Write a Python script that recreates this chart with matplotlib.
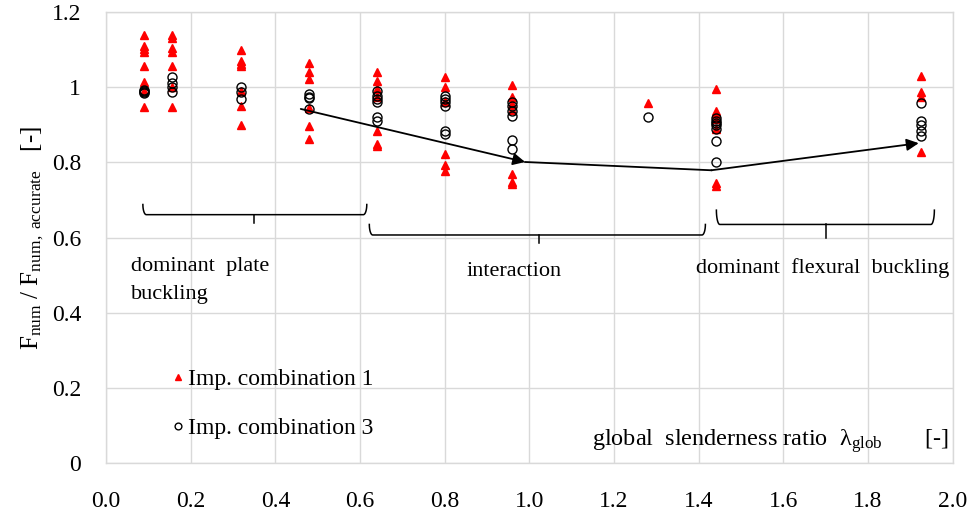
import numpy as np
import matplotlib
matplotlib.use('Agg')
import matplotlib.pyplot as plt

plt.rcParams['font.family'] = ['Liberation Serif', 'DejaVu Serif']
plt.rcParams['mathtext.fontset'] = 'custom'
plt.rcParams['mathtext.rm'] = 'Liberation Serif'
plt.rcParams['mathtext.it'] = 'Liberation Serif:italic'

# global slenderness of each test group
lam = [0.09, 0.155, 0.32, 0.48, 0.64, 0.80, 0.96, 1.28, 1.44, 1.925]

# F_num / F_num,accurate, imperfection combination 1 (red triangles)
imp1 = [
    [1.138, 1.108, 1.100, 1.094, 1.056, 1.014, 0.990, 0.946],
    [1.138, 1.130, 1.103, 1.094, 1.056, 1.000, 0.946],
    [1.098, 1.070, 1.062, 1.056, 0.990, 0.950, 0.898],
    [1.065, 1.041, 1.021, 0.944, 0.896, 0.862],
    [1.041, 1.017, 0.995, 0.975, 0.884, 0.848, 0.843],
    [1.028, 0.999, 0.964, 0.960, 0.823, 0.792, 0.778],
    [1.006, 0.975, 0.955, 0.940, 0.770, 0.749, 0.743],
    [0.957],
    [0.994, 0.937, 0.930, 0.915, 0.889, 0.745, 0.737],
    [1.030, 0.986, 0.975, 0.827],
]

# imperfection combination 3 (open circles)
imp3 = [
    [0.985, 0.988, 0.992, 0.990],
    [1.028, 1.012, 0.999, 0.988],
    [0.999, 0.988, 0.968],
    [0.981, 0.975, 0.970, 0.942],
    [0.990, 0.977, 0.968, 0.960, 0.920, 0.911],
    [0.977, 0.968, 0.960, 0.950, 0.884, 0.876],
    [0.960, 0.950, 0.937, 0.924, 0.860, 0.836],
    [0.921],
    [0.918, 0.911, 0.905, 0.899, 0.889, 0.856, 0.801],
    [0.957, 0.911, 0.898, 0.884, 0.870],
]

# trend line drawn over the data
trend_x = [0.46, 0.99, 1.43, 1.92]
trend_y = [0.942, 0.801, 0.779, 0.851]

x_ticks = [0.0, 0.2, 0.4, 0.6, 0.8, 1.0, 1.2, 1.4, 1.6, 1.8, 2.0]
x_labels = ['0.0', '0.2', '0.4', '0.6', '0.8', '1.0', '1.2', '1.4', '1.6', '1.8', '2.0']
y_ticks = [0, 0.2, 0.4, 0.6, 0.8, 1.0, 1.2]
y_labels = ['0', '0.2', '0.4', '0.6', '0.8', '1', '1.2']

x1 = np.concatenate([[x] * len(v) for x, v in zip(lam, imp1)])
y1 = np.concatenate(imp1)
x3 = np.concatenate([[x] * len(v) for x, v in zip(lam, imp3)])
y3 = np.concatenate(imp3)

fig = plt.figure(figsize=(9.73, 5.16), dpi=100)
ax = fig.add_axes([0.109, 0.102, 0.870, 0.875])

ax.plot(x1, y1, ls='none', marker='^', ms=5.5, mfc='red', mec='red',
        label='Imp. combination 1', zorder=3)
ax.plot(x3, y3, ls='none', marker='o', ms=6.5, mfc='none', mec='black',
        mew=1.0, label='Imp. combination 3', zorder=4)

# trend arrows
ax.annotate('', xy=(trend_x[1], trend_y[1]), xytext=(trend_x[0], trend_y[0]),
            arrowprops=dict(arrowstyle='-|>', color='black', lw=1.3,
                            mutation_scale=18, shrinkA=0, shrinkB=0), zorder=5)
ax.plot(trend_x[1:3], trend_y[1:3], color='black', lw=1.3, zorder=5)
ax.annotate('', xy=(trend_x[3], trend_y[3]), xytext=(trend_x[2], trend_y[2]),
            arrowprops=dict(arrowstyle='-|>', color='black', lw=1.3,
                            mutation_scale=18, shrinkA=0, shrinkB=0), zorder=5)


def brace(x0, x1_, xm, y_end, y_bar, y_tip):
    h = 0.008
    t = np.linspace(0, np.pi / 2, 12)
    lx = x0 + h * (1 - np.cos(t))
    ly = y_bar + (y_end - y_bar) * (1 - np.sin(t))
    rx = x1_ - h * (1 - np.cos(t))
    xs = np.concatenate([lx, rx[::-1]])
    ys = np.concatenate([ly, ly[::-1]])
    ax.plot(xs, ys, color='black', lw=1.1, zorder=5)
    ax.plot([xm, xm], [y_bar, y_tip], color='black', lw=1.1, zorder=5)


brace(0.087, 0.616, 0.35, 0.688, 0.661, 0.638)
brace(0.622, 1.416, 1.022, 0.635, 0.607, 0.585)
brace(1.442, 1.957, 1.700, 0.673, 0.635, 0.600)

fs = 16
ax.text(0.06, 0.524, 'dominant  plate', fontsize=fs, va='center', ha='left')
ax.text(0.06, 0.448, 'buckling', fontsize=fs, va='center', ha='left')
ax.text(0.963, 0.51, 'interaction', fontsize=fs, va='center', ha='center')
ax.text(1.393, 0.518, 'dominant  flexural  buckling', fontsize=fs, va='center', ha='left')
ax.text(1.148, 0.058, r'global  slenderness ratio  $\mathrm{\lambda_{glob}}$       [-]',
        fontsize=17.5, va='center', ha='left')

ax.set_xlim(0, 2.0)
ax.set_ylim(0, 1.2)
ax.set_xticks(x_ticks)
ax.set_xticklabels(x_labels)
ax.set_yticks(y_ticks)
ax.set_yticklabels(y_labels)
ax.tick_params(axis='both', length=0, labelsize=17)
ax.tick_params(axis='x', pad=20)
ax.tick_params(axis='y', pad=18)
ax.grid(True, color='#d9d9d9', lw=1.0)
ax.set_axisbelow(True)
for sp in ax.spines.values():
    sp.set_color('#d9d9d9')
    sp.set_linewidth(1.0)

ax.set_ylabel(r'$\mathrm{F_{num}\ /\ F_{num,\ accurate}}$   [-]', fontsize=18)

leg = ax.legend(loc='upper left', bbox_to_anchor=(0.065, 0.23), frameon=False,
                fontsize=17, markerscale=0.75, handlelength=0.6,
                handletextpad=0.15, labelspacing=1.15, borderaxespad=0)

fig.savefig('out.png', dpi=100)
